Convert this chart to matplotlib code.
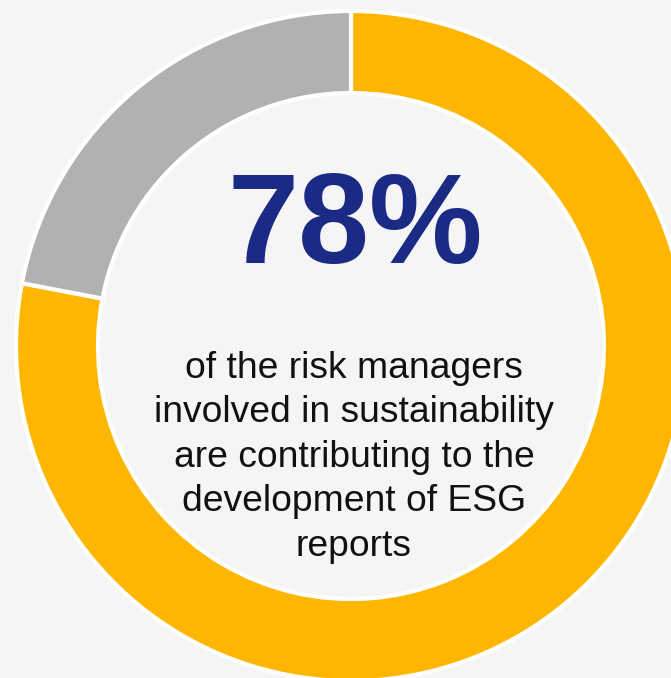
import matplotlib.pyplot as plt

# share of risk managers contributing to ESG reports
labels = ["Contributing", "Not contributing"]
shares = [78, 22]
headline = "78%"
caption = [
    "of the risk managers",
    "involved in sustainability",
    "are contributing to the",
    "development of ESG",
    "reports",
]

W, H = 671, 678
fig = plt.figure(figsize=(W / 100, H / 100), dpi=100, facecolor="#f5f5f5")
ax = fig.add_axes([0, 0, 1, 1])
ax.set_facecolor("#f5f5f5")

cx, cy = 351, H - 346
r_out = 335
ax.pie(shares, labels=None, colors=["#ffb600", "#b1b1b1"],
       startangle=90, counterclock=False, center=(cx, cy), radius=r_out,
       wedgeprops=dict(width=82, edgecolor="white", linewidth=3),
       frame=True)
ax.set_xlim(0, W)
ax.set_ylim(0, H)
ax.set_aspect("equal")
ax.axis("off")

ax.text(355, H - 263, headline, ha="center", va="baseline",
        fontsize=92, fontweight="bold", color="#1b2a84",
        family="Liberation Sans")

for i, line in enumerate(caption):
    ax.text(354, H - (377.5 + i * 44.6), line, ha="center", va="baseline",
            fontsize=26.8, color="#111111", family="Liberation Sans")

fig.savefig("out.png", dpi=100, facecolor=fig.get_facecolor())
